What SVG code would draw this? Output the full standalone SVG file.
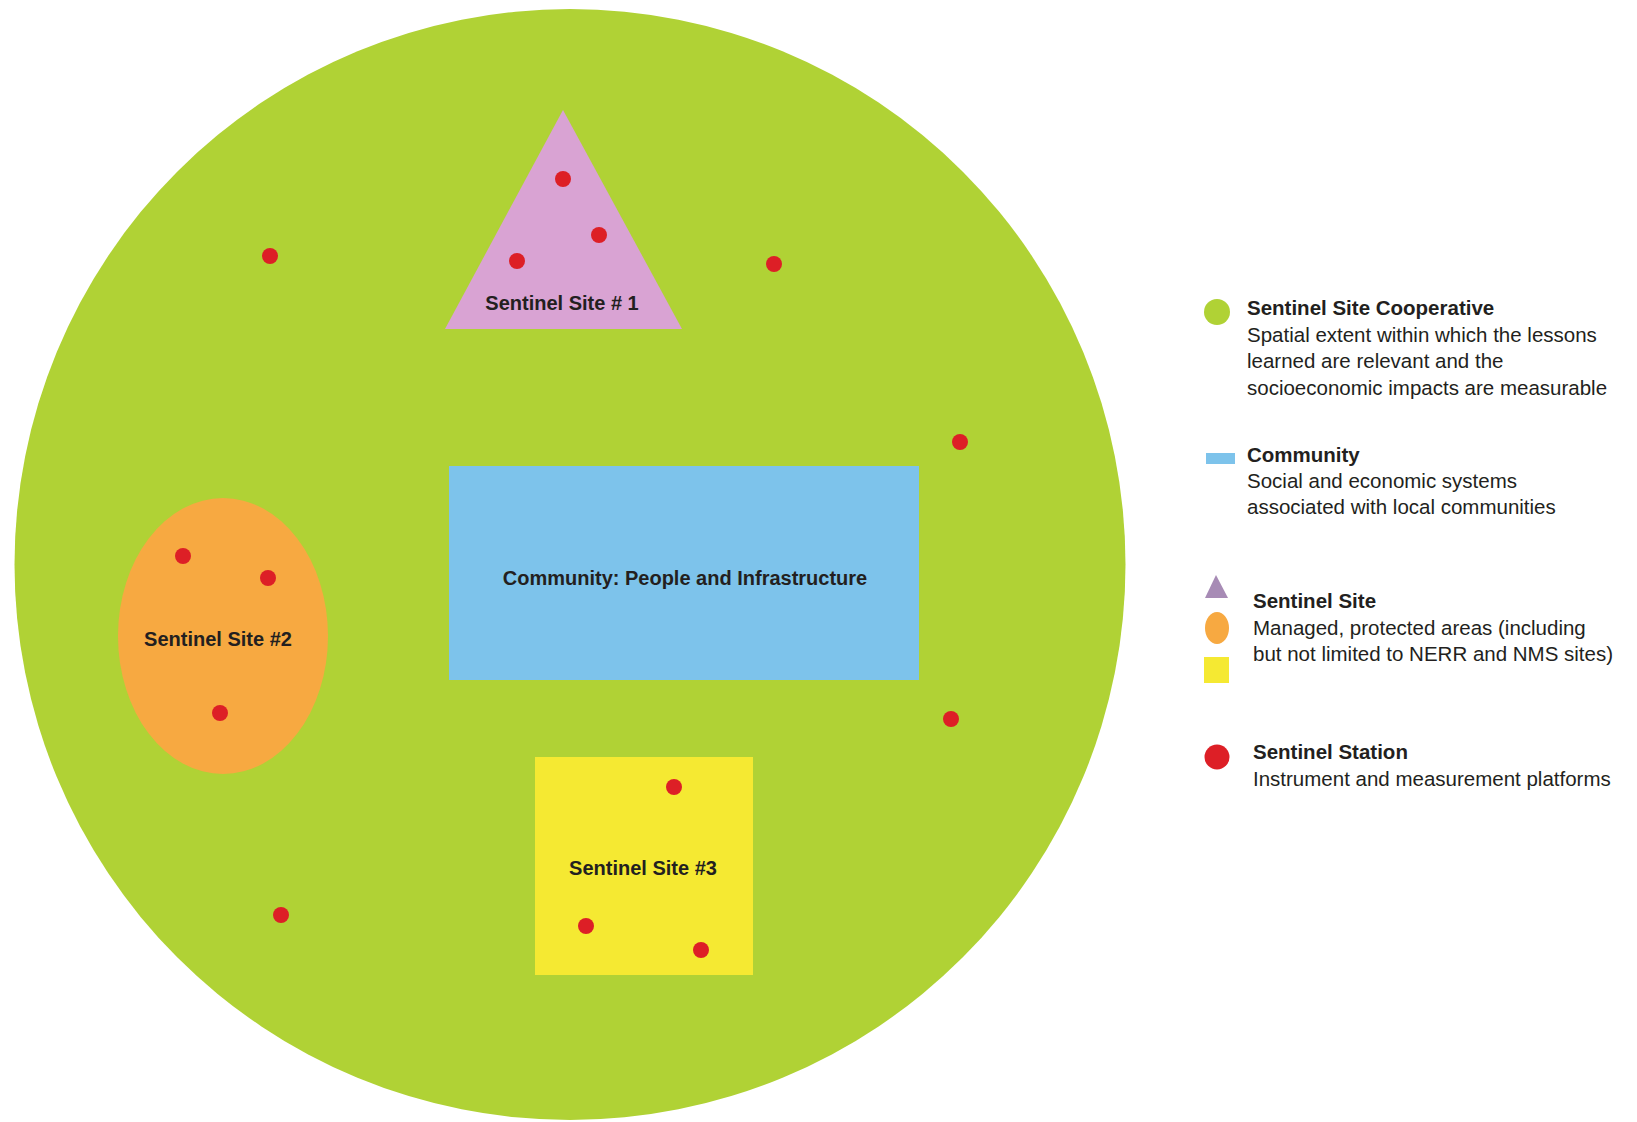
<svg xmlns="http://www.w3.org/2000/svg" width="1637" height="1122" viewBox="0 0 1637 1122">
<style>
.lbl{font-family:"Liberation Sans",Arial,sans-serif;font-weight:bold;fill:#231f20;font-size:20px}
.lh{font-family:"Liberation Sans",Arial,sans-serif;font-weight:bold;fill:#231f20;font-size:20.5px}
.lt{font-family:"Liberation Sans",Arial,sans-serif;fill:#231f20;font-size:20.5px}
.dot{fill:#dd1f26}
</style>
<rect width="1637" height="1122" fill="#ffffff"/>
<g id="cooperative">
<ellipse cx="570" cy="564.5" rx="555.5" ry="555.5" fill="#b0d235"/>
</g>
<g id="site1">
<polygon points="563,110 445,329 682,329" fill="#d9a3d3"/>
<text class="lbl" x="562" y="310" text-anchor="middle">Sentinel Site # 1</text>
</g>
<g id="site2">
<ellipse cx="223" cy="636" rx="105" ry="138" fill="#f7a941"/>
<text class="lbl" x="218" y="646" text-anchor="middle">Sentinel Site #2</text>
</g>
<g id="site3">
<rect x="535" y="757" width="218" height="218" fill="#f5e932"/>
<text class="lbl" x="643" y="875" text-anchor="middle">Sentinel Site #3</text>
</g>
<g id="community">
<rect x="449" y="466" width="470" height="214" fill="#7dc3eb"/>
<text class="lbl" x="685" y="585" text-anchor="middle" font-size="20.5">Community: People and Infrastructure</text>
</g>
<g id="stations">
<circle class="dot" cx="563" cy="179" r="8"/>
<circle class="dot" cx="599" cy="235" r="8"/>
<circle class="dot" cx="517" cy="261" r="8"/>
<circle class="dot" cx="183" cy="556" r="8"/>
<circle class="dot" cx="268" cy="578" r="8"/>
<circle class="dot" cx="220" cy="713" r="8"/>
<circle class="dot" cx="674" cy="787" r="8"/>
<circle class="dot" cx="586" cy="926" r="8"/>
<circle class="dot" cx="701" cy="950" r="8"/>
<circle class="dot" cx="270" cy="256" r="8"/>
<circle class="dot" cx="774" cy="264" r="8"/>
<circle class="dot" cx="960" cy="442" r="8"/>
<circle class="dot" cx="951" cy="719" r="8"/>
<circle class="dot" cx="281" cy="915" r="8"/>
</g>
<g id="connectors"></g>
<g id="legend">
<g id="legend-cooperative">
<circle cx="1217" cy="312" r="13" fill="#b0d235"/>
<text class="lh" x="1247" y="315">Sentinel Site Cooperative</text>
<text class="lt" x="1247" y="342">Spatial extent within which the lessons</text>
<text class="lt" x="1247" y="368">learned are relevant and the</text>
<text class="lt" x="1247" y="395">socioeconomic impacts are measurable</text>
</g>
<g id="legend-community">
<rect x="1206" y="453" width="29" height="11" fill="#7dc3eb"/>
<text class="lh" x="1247" y="462">Community</text>
<text class="lt" x="1247" y="488">Social and economic systems</text>
<text class="lt" x="1247" y="514">associated with local communities</text>
</g>
<g id="legend-site">
<polygon points="1216,575 1205,598 1228,598" fill="#a78bb5"/>
<ellipse cx="1217" cy="628" rx="12" ry="16" fill="#f7a941"/>
<rect x="1204" y="657" width="25" height="26" fill="#f5e932"/>
<text class="lh" x="1253" y="608">Sentinel Site</text>
<text class="lt" x="1253" y="635">Managed, protected areas (including</text>
<text class="lt" x="1253" y="661">but not limited to NERR and NMS sites)</text>
</g>
<g id="legend-station">
<circle cx="1217" cy="757" r="12.5" fill="#dd1f26"/>
<text class="lh" x="1253" y="759">Sentinel Station</text>
<text class="lt" x="1253" y="786">Instrument and measurement platforms</text>
</g>
</g>
</svg>
